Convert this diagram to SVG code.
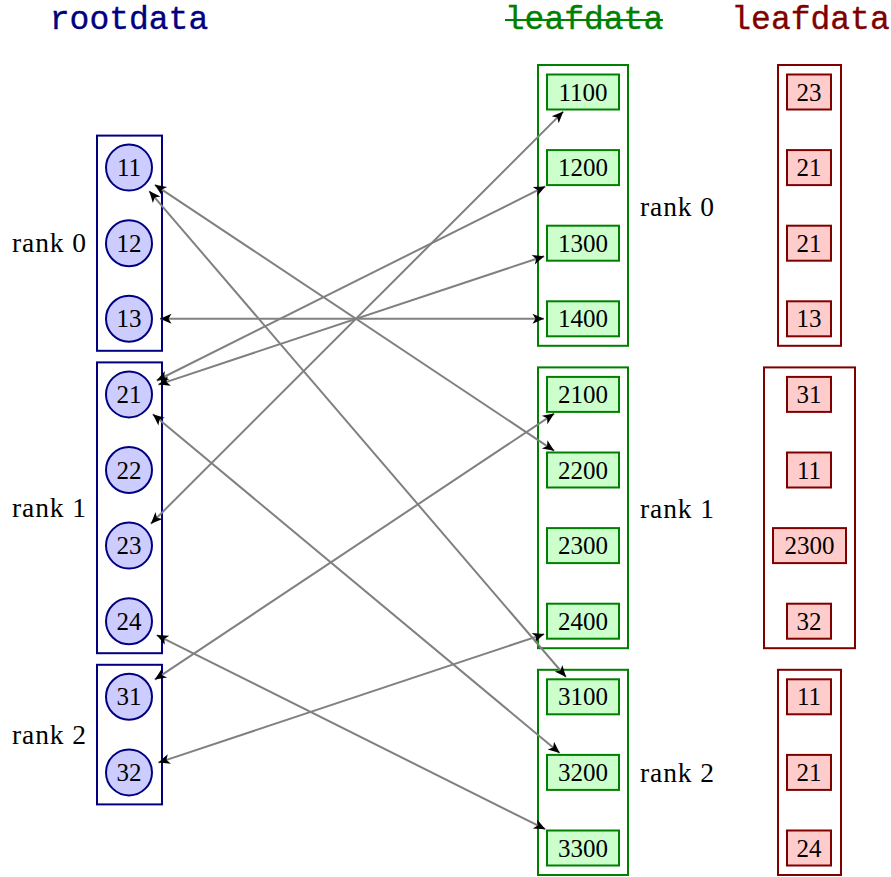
<svg xmlns="http://www.w3.org/2000/svg" width="891" height="877" viewBox="0 0 891 877">
<defs>
<marker id="ah" viewBox="-13 -6 14 12" markerWidth="14" markerHeight="12" refX="0" refY="0" orient="auto-start-reverse" markerUnits="userSpaceOnUse">
<path d="M0,0 L-11.5,-5 L-8.5,0 L-11.5,5 Z" fill="#000"/>
</marker>
<style>
.title{font-family:"Liberation Mono",monospace;font-size:33px;text-anchor:middle;stroke-width:0.35}
.lbl{font-family:"Liberation Serif",serif;font-size:27.5px;fill:#000;text-anchor:middle}
.num{font-family:"Liberation Serif",serif;font-size:25px;fill:#000;text-anchor:middle}
.rb{fill:none;stroke:#000080;stroke-width:2}
.gb{fill:none;stroke:#008000;stroke-width:2}
.redb{fill:none;stroke:#800000;stroke-width:2}
.rc{fill:#ccccff;stroke:#000080;stroke-width:2}
.gl{fill:#ccffcc;stroke:#008000;stroke-width:2}
.rl{fill:#ffcccc;stroke:#800000;stroke-width:2}
.cn{stroke:#808080;stroke-width:2;fill:none;marker-start:url(#ah);marker-end:url(#ah)}
</style>
</defs>
<rect width="891" height="877" fill="#fff"/>
<g id="titles">
<text class="title" x="129" y="29" fill="#000080" stroke="#000080">rootdata</text>
<text class="title" x="584" y="29" fill="#008000" stroke="#008000">leafdata</text>
<line x1="505" y1="20" x2="663" y2="20" stroke="#008000" stroke-width="2"/>
<text class="title" x="810.5" y="29" fill="#800000" stroke="#800000">leafdata</text>
</g>
<g id="root-rank-boxes">
<rect class="rb" x="97" y="135.6" width="65" height="215.2"/>
<rect class="rb" x="97" y="362.4" width="65" height="290.8"/>
<rect class="rb" x="97" y="664.8" width="65" height="139.6"/>
<text class="lbl" x="49" y="252" textLength="74">rank 0</text>
<text class="lbl" x="49" y="517" textLength="74">rank 1</text>
<text class="lbl" x="49" y="744" textLength="74">rank 2</text>
</g>
<g id="leaf-rank-boxes">
<rect class="gb" x="538" y="65" width="90" height="280.8"/>
<rect class="gb" x="538" y="367.4" width="90" height="280.8"/>
<rect class="gb" x="538" y="669.8" width="90" height="205.2"/>
<text class="lbl" x="677" y="216" textLength="74">rank 0</text>
<text class="lbl" x="677" y="518" textLength="74">rank 1</text>
<text class="lbl" x="677" y="782" textLength="74">rank 2</text>
</g>
<g id="result-rank-boxes">
<rect class="redb" x="778" y="65" width="63" height="280.8"/>
<rect class="redb" x="764" y="367.4" width="91" height="280.8"/>
<rect class="redb" x="778" y="669.8" width="63" height="205.2"/>
</g>
<g id="connectors">
<line class="cn" x1="150.9" y1="523.7" x2="563.3" y2="111.6"/>
<line class="cn" x1="156.7" y1="380.5" x2="545.3" y2="186.4"/>
<line class="cn" x1="158.4" y1="384.6" x2="544.2" y2="256.2"/>
<line class="cn" x1="160" y1="318.8" x2="544" y2="318.8"/>
<line class="cn" x1="154.8" y1="679.6" x2="554.2" y2="413.6"/>
<line class="cn" x1="154.8" y1="184.8" x2="554.2" y2="450.8"/>
<line class="cn" x1="158.4" y1="762.6" x2="544.2" y2="634.1"/>
<line class="cn" x1="149.2" y1="191.1" x2="566" y2="677"/>
<line class="cn" x1="152.8" y1="414.2" x2="559.7" y2="753"/>
<line class="cn" x1="156.7" y1="635.1" x2="545.3" y2="829.2"/>
</g>
<g id="root-11"><circle class="rc" cx="129" cy="167.6" r="23"/><text class="num" x="129" y="176.2">11</text></g>
<g id="root-12"><circle class="rc" cx="129" cy="243.2" r="23"/><text class="num" x="129" y="251.8">12</text></g>
<g id="root-13"><circle class="rc" cx="129" cy="318.8" r="23"/><text class="num" x="129" y="327.4">13</text></g>
<g id="root-21"><circle class="rc" cx="129" cy="394.4" r="23"/><text class="num" x="129" y="403">21</text></g>
<g id="root-22"><circle class="rc" cx="129" cy="470" r="23"/><text class="num" x="129" y="478.6">22</text></g>
<g id="root-23"><circle class="rc" cx="129" cy="545.6" r="23"/><text class="num" x="129" y="554.2">23</text></g>
<g id="root-24"><circle class="rc" cx="129" cy="621.2" r="23"/><text class="num" x="129" y="629.8">24</text></g>
<g id="root-31"><circle class="rc" cx="129" cy="696.8" r="23"/><text class="num" x="129" y="705.4">31</text></g>
<g id="root-32"><circle class="rc" cx="129" cy="772.4" r="23"/><text class="num" x="129" y="781">32</text></g>
<g id="leaf-1100"><rect class="gl" x="547" y="74.5" width="72" height="35"/><text class="num" x="583" y="100.6">1100</text></g>
<g id="leaf-1200"><rect class="gl" x="547" y="150.1" width="72" height="35"/><text class="num" x="583" y="176.2">1200</text></g>
<g id="leaf-1300"><rect class="gl" x="547" y="225.7" width="72" height="35"/><text class="num" x="583" y="251.8">1300</text></g>
<g id="leaf-1400"><rect class="gl" x="547" y="301.3" width="72" height="35"/><text class="num" x="583" y="327.4">1400</text></g>
<g id="leaf-2100"><rect class="gl" x="547" y="376.9" width="72" height="35"/><text class="num" x="583" y="403">2100</text></g>
<g id="leaf-2200"><rect class="gl" x="547" y="452.5" width="72" height="35"/><text class="num" x="583" y="478.6">2200</text></g>
<g id="leaf-2300"><rect class="gl" x="547" y="528.1" width="72" height="35"/><text class="num" x="583" y="554.2">2300</text></g>
<g id="leaf-2400"><rect class="gl" x="547" y="603.7" width="72" height="35"/><text class="num" x="583" y="629.8">2400</text></g>
<g id="leaf-3100"><rect class="gl" x="547" y="679.3" width="72" height="35"/><text class="num" x="583" y="705.4">3100</text></g>
<g id="leaf-3200"><rect class="gl" x="547" y="754.9" width="72" height="35"/><text class="num" x="583" y="781">3200</text></g>
<g id="leaf-3300"><rect class="gl" x="547" y="830.5" width="72" height="35"/><text class="num" x="583" y="856.6">3300</text></g>
<g id="res-0"><rect class="rl" x="787" y="74.5" width="44" height="35"/><text class="num" x="809" y="100.6">23</text></g>
<g id="res-1"><rect class="rl" x="787" y="150.1" width="44" height="35"/><text class="num" x="809" y="176.2">21</text></g>
<g id="res-2"><rect class="rl" x="787" y="225.7" width="44" height="35"/><text class="num" x="809" y="251.8">21</text></g>
<g id="res-3"><rect class="rl" x="787" y="301.3" width="44" height="35"/><text class="num" x="809" y="327.4">13</text></g>
<g id="res-4"><rect class="rl" x="787" y="376.9" width="44" height="35"/><text class="num" x="809" y="403">31</text></g>
<g id="res-5"><rect class="rl" x="787" y="452.5" width="44" height="35"/><text class="num" x="809" y="478.6">11</text></g>
<g id="res-6"><rect class="rl" x="773" y="528.1" width="73" height="35"/><text class="num" x="809.5" y="554.2">2300</text></g>
<g id="res-7"><rect class="rl" x="787" y="603.7" width="44" height="35"/><text class="num" x="809" y="629.8">32</text></g>
<g id="res-8"><rect class="rl" x="787" y="679.3" width="44" height="35"/><text class="num" x="809" y="705.4">11</text></g>
<g id="res-9"><rect class="rl" x="787" y="754.9" width="44" height="35"/><text class="num" x="809" y="781">21</text></g>
<g id="res-10"><rect class="rl" x="787" y="830.5" width="44" height="35"/><text class="num" x="809" y="856.6">24</text></g>
</svg>
